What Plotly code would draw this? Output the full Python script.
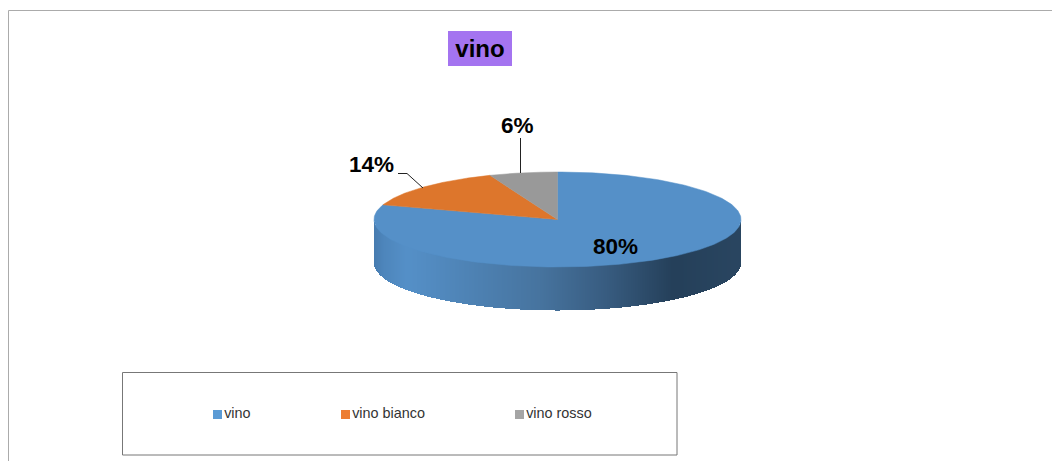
import numpy as np
import plotly.graph_objects as go

categories = ["vino", "vino bianco", "vino rosso"]
values = [80, 14, 6]
title_text = "vino"

top_colors = ["#5590C8", "#DD762C", "#999999"]
legend_colors = ["#5B9BD5", "#ED7D31", "#A5A5A5"]
legend_x = [217.5, 345.5, 519.5]
label_x = [615, 371, 517]
label_y = [246, 164.5, 125]

W, H = 1052, 461
CX, CY, RX, RY, DEPTH = 557.5, 219.5, 183.5, 47.5, 44.5
FONT = "Liberation Sans, Arial, sans-serif"

fig = go.Figure()

# side wall: vertical gradient strips
stops_x = [374, 384, 407, 540, 607, 673, 741]
stops_rgb = np.array([[0x47, 0x7C, 0xB0], [0x4E, 0x86, 0xBC], [0x55, 0x90, 0xC8],
                      [0x47, 0x74, 0x9F], [0x38, 0x5C, 0x80], [0x25, 0x40, 0x5A], [0x2A, 0x46, 0x61]])
xs = np.arange(CX - RX, CX + RX, 1.0) + 0.5
base = CY + RY * np.sqrt(np.clip(1 - ((xs - CX) / RX) ** 2, 0, 1))
wall_cols = ["rgb(%d,%d,%d)" % tuple(np.interp(x, stops_x, stops_rgb[:, i]) for i in range(3)) for x in xs]
fig.add_trace(go.Bar(x=xs, y=[DEPTH] * len(xs), base=base - 1, width=1.0,
                     marker=dict(color=wall_cols, line_width=0), showlegend=False, hoverinfo="skip"))

# top face: wedges computed from the values, clockwise from 12 o'clock
cum = np.cumsum([0] + values) / sum(values) * 2 * np.pi
for i, name in enumerate(categories):
    t = np.linspace(cum[i], cum[i + 1], 240)
    fig.add_trace(go.Scatter(
        x=np.r_[CX, CX + RX * np.sin(t), CX],
        y=np.r_[CY, CY - RY * np.cos(t), CY],
        mode="lines", fill="toself", fillcolor=top_colors[i],
        line=dict(color=top_colors[i], width=0.5), name=name, showlegend=False, hoverinfo="name"))

# leader lines
for lx, ly in [([398, 407, 423], [173.5, 173.5, 188]), ([520.5, 520.5], [138, 173])]:
    fig.add_trace(go.Scatter(x=lx, y=ly, mode="lines", line=dict(color="#222222", width=1),
                             showlegend=False, hoverinfo="skip"))

# legend entries
for i, name in enumerate(categories):
    fig.add_trace(go.Scatter(x=[legend_x[i]], y=[414.5], mode="markers+text", text=[name],
                             textposition="middle right", textfont=dict(family=FONT, size=14.4, color="#333333"),
                             marker=dict(symbol="square", size=9, color=legend_colors[i]),
                             showlegend=False, hoverinfo="skip"))

annotations = [dict(x=label_x[i], y=label_y[i], text=f"<b>{values[i]}%</b>", showarrow=False,
                    font=dict(family=FONT, size=22.5, color="#000000")) for i in range(3)]

shapes = [
    dict(type="line", x0=8.5, x1=W, y0=10.5, y1=10.5, line=dict(color="#ABABAB", width=1)),
    dict(type="line", x0=8.5, x1=8.5, y0=10.5, y1=H, line=dict(color="#ABABAB", width=1)),
    dict(type="rect", x0=448, x1=512, y0=31, y1=66, fillcolor="#A474F0", line_width=0, layer="below"),
    dict(type="rect", x0=122.5, x1=677, y0=372.5, y1=455, line=dict(color="#777777", width=1), layer="below"),
]

fig.update_layout(
    width=W, height=H, margin=dict(l=0, r=0, t=0, b=0, pad=0),
    paper_bgcolor="#FFFFFF", plot_bgcolor="#FFFFFF", autosize=False, showlegend=False,
    bargap=0,
    title=dict(text=f"<b>{title_text}</b>", x=480 / W, y=1 - 49 / H, xanchor="center", yanchor="middle",
               font=dict(family=FONT, size=24, color="#000000")),
    xaxis=dict(range=[0, W], visible=False, fixedrange=True),
    yaxis=dict(range=[H, 0], visible=False, fixedrange=True),
    annotations=annotations, shapes=shapes,
)
fig.write_html("out.html", config=dict(displayModeBar=False),
               post_script="document.body.style.margin='0';document.documentElement.style.overflow='hidden';")
